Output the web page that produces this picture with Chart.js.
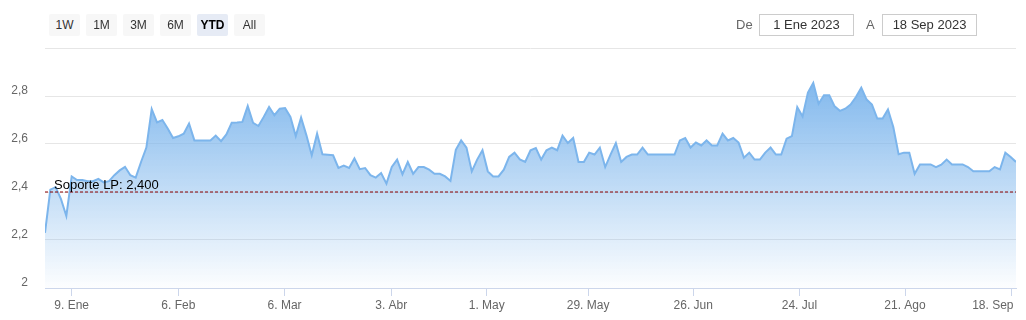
<!DOCTYPE html>
<html>
<head>
<meta charset="utf-8">
<script src="https://cdn.jsdelivr.net/npm/chart.js@4.4.0/dist/chart.umd.min.js"></script>
<style>
  html, body { margin: 0; padding: 0; background: #fff; }
  #wrap { position: relative; width: 1026px; height: 320px; font-family: "Liberation Sans", Arial, sans-serif; }
  #chart { position: absolute; left: 0; top: 0; }
  .btn { position: absolute; top: 14px; width: 31px; height: 22px; line-height: 22px; background: #f7f7f7; color: #333; font-size: 12px; text-align: center; border-radius: 2px; }
  .btn.on { background: #e6ebf5; color: #000; font-weight: bold; }
  .lbl { position: absolute; top: 14px; line-height: 22px; font-size: 13px; color: #666; }
  .inp { position: absolute; top: 14px; width: 93px; height: 20px; line-height: 20px; border: 1px solid #ccc; font-size: 13px; color: #333; text-align: center; }
</style>
</head>
<body>
<div id="wrap">
  <canvas id="chart" width="1026" height="320"></canvas>
</div>
<script>
// daily closes, 2 Ene 2023 -> 19 Sep 2023 (trading days only)
const prices = [
  2.23, 2.41, 2.42, 2.37, 2.30, 2.465, 2.45, 2.45, 2.445, 2.445,
  2.455, 2.44, 2.445, 2.47, 2.49, 2.505, 2.47, 2.46, 2.525, 2.585,
  2.745, 2.69, 2.70, 2.665, 2.625, 2.632, 2.643, 2.685, 2.615, 2.615,
  2.615, 2.615, 2.635, 2.612, 2.64, 2.689, 2.69, 2.692, 2.758, 2.688,
  2.675, 2.713, 2.754, 2.72, 2.747, 2.75, 2.713, 2.633, 2.71, 2.636,
  2.553, 2.643, 2.557, 2.555, 2.553, 2.50, 2.51, 2.50, 2.54, 2.495,
  2.50, 2.47, 2.46, 2.479, 2.435, 2.504, 2.535, 2.474, 2.525, 2.476,
  2.504, 2.504, 2.493, 2.476, 2.476, 2.465, 2.446, 2.576, 2.615, 2.585,
  2.486, 2.535, 2.574, 2.486, 2.465, 2.465, 2.493, 2.546, 2.564, 2.536,
  2.525, 2.574, 2.583, 2.535, 2.574, 2.585, 2.574, 2.635, 2.604, 2.625,
  2.525, 2.525, 2.564, 2.556, 2.585, 2.504, 2.556, 2.604, 2.525, 2.546,
  2.556, 2.556, 2.585, 2.556, 2.556, 2.556, 2.556, 2.556, 2.556, 2.615,
  2.625, 2.585, 2.606, 2.594, 2.615, 2.594, 2.594, 2.643, 2.615, 2.625,
  2.606, 2.543, 2.564, 2.535, 2.535, 2.564, 2.585, 2.556, 2.556, 2.622,
  2.633, 2.754, 2.715, 2.814, 2.854, 2.768, 2.803, 2.803, 2.757, 2.738,
  2.747, 2.764, 2.796, 2.835, 2.785, 2.764, 2.706, 2.706, 2.744, 2.671,
  2.557, 2.564, 2.564, 2.476, 2.515, 2.515, 2.515, 2.504, 2.514, 2.535,
  2.515, 2.515, 2.515, 2.504, 2.486, 2.486, 2.486, 2.486, 2.504, 2.494,
  2.564, 2.546, 2.525
];

// x ticks sit on the ordinal (trading day) positions
const tickIdx = [5, 25, 44.9, 64.9, 82.8, 101.8, 121.5, 141.4, 161.2, 181.1];
const tickLabels = ['9. Ene', '6. Feb', '6. Mar', '3. Abr', '1. May', '29. May', '26. Jun', '24. Jul', '21. Ago', '18. Sep'];

const supportLevel = 2.4;
const supportText = 'Soporte LP: 2,400';

const rangeButtons = ['1W', '1M', '3M', '6M', 'YTD', 'All'];
const selectedRange = 'YTD';
const dateFrom = '1 Ene 2023';
const dateTo = '18 Sep 2023';

// range selector + date inputs
const wrap = document.getElementById('wrap');
rangeButtons.forEach((b, i) => {
  const el = document.createElement('div');
  el.className = 'btn' + (b === selectedRange ? ' on' : '');
  el.style.left = (49 + i * 37) + 'px';
  el.textContent = b;
  wrap.appendChild(el);
});
const addEl = (cls, text, left) => {
  const el = document.createElement('div');
  el.className = cls;
  el.style.left = left + 'px';
  el.textContent = text;
  wrap.appendChild(el);
};
addEl('lbl', 'De', 736);
addEl('inp', dateFrom, 759);
addEl('lbl', 'A', 866);
addEl('inp', dateTo, 882);

const font = '"Liberation Sans", Arial, sans-serif';

const supportLabel = {
  id: 'supportLabel',
  afterDatasetsDraw(chart) {
    const { ctx, chartArea, scales } = chart;
    const y = scales.y.getPixelForValue(supportLevel);
    ctx.save();
    ctx.font = '13px ' + font;
    ctx.fillStyle = '#000';
    ctx.fillText(supportText, chartArea.left + 9, y - 3.5);
    ctx.restore();
  }
};

new Chart(document.getElementById('chart'), {
  type: 'line',
  data: {
    datasets: [
      {
        data: [{ x: 0, y: supportLevel }, { x: prices.length - 1, y: supportLevel }],
        borderColor: '#8b0000',
        borderWidth: 1,
        borderDash: [3, 2],
        pointRadius: 0,
        fill: false,
        order: 0
      },
      {
        data: prices.map((v, i) => ({ x: i, y: v })),
        borderColor: '#7cb5ec',
        borderWidth: 2,
        pointRadius: 0,
        tension: 0,
        fill: 'start',
        order: 1,
        backgroundColor(c) {
          const { chart } = c;
          const area = chart.chartArea;
          if (!area) return 'rgba(124,181,236,0.5)';
          const top = chart.scales.y.getPixelForValue(Math.max(...prices));
          const g = chart.ctx.createLinearGradient(0, top, 0, area.bottom);
          g.addColorStop(0, 'rgba(124,181,236,0.95)');
          g.addColorStop(1, 'rgba(124,181,236,0.02)');
          return g;
        }
      }
    ]
  },
  options: {
    responsive: false,
    animation: false,
    layout: { padding: { top: 48, right: 10, left: 0, bottom: 0 } },
    plugins: { legend: { display: false }, tooltip: { enabled: false } },
    scales: {
      x: {
        type: 'linear',
        min: 0,
        max: prices.length - 1,
        afterBuildTicks(scale) {
          scale.ticks = tickIdx.map(v => ({ value: v }));
        },
        afterFit(scale) {
          scale.height = 32;
          scale.paddingLeft = 0;
          scale.paddingRight = 0;
        },
        grid: { drawOnChartArea: false, drawTicks: true, tickLength: 8, color: '#ccd6eb' },
        border: { color: '#ccd6eb' },
        ticks: {
          autoSkip: false,
          maxRotation: 0,
          padding: 2,
          color: '#666',
          font: { family: font, size: 12 },
          // last label is kept inside the plot, as the original does
          callback: (v, i) => (i === tickLabels.length - 1 ? tickLabels[i] + '\u00a0'.repeat(11) : tickLabels[i])
        }
      },
      y: {
        min: 2,
        max: 3,
        afterFit(scale) { scale.width = 45; },
        grid: { color: '#e6e6e6', drawTicks: false },
        border: { display: false },
        ticks: {
          stepSize: 0.2,
          padding: 17,
          labelOffset: -5,
          color: '#666',
          font: { family: font, size: 12 },
          callback: v => (v >= 2.99 ? '' : (Math.round(v * 10) / 10).toString().replace('.', ','))
        }
      }
    }
  },
  plugins: [supportLabel]
});
</script>
</body>
</html>
